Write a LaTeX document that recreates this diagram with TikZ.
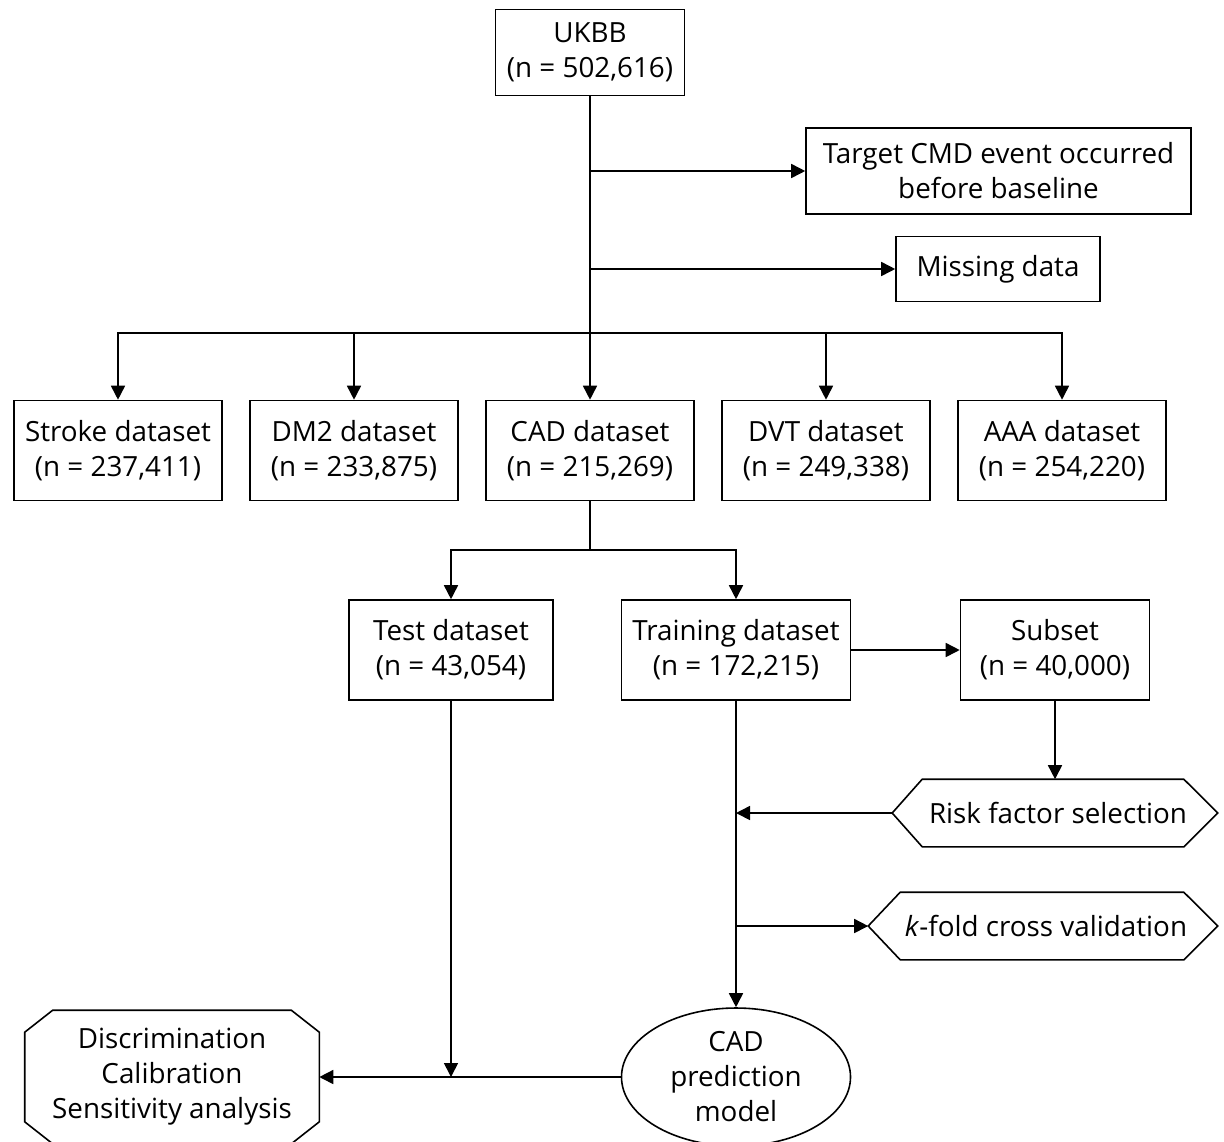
\documentclass[tikz,border=0pt]{standalone}
\usepackage{fontspec}
\setmainfont{Open Sans}
\usetikzlibrary{arrows.meta,shapes.geometric,calc}
\newcommand\diagfont{\fontsize{13.9}{17.5}\selectfont}
\begin{document}
\begin{tikzpicture}[x=0.5pt,y=-0.5pt,
  line width=0.8pt,
  every node/.style={font=\diagfont, align=center, inner sep=0pt},
  box/.style={draw, rectangle},
  arr/.style={-{Triangle[length=7pt,width=7pt]}}]
\useasboundingbox (0,0) rectangle (1224,1141);

% boxes
\node[box, minimum width=94.5pt, minimum height=43pt] (ukbb) at (590,52.5) {UKBB\\(n = 502,616)};
\node[box, minimum width=192.5pt, minimum height=43pt] (target) at (998.5,171) {Target CMD event occurred\\before baseline};
\node[box, minimum width=102pt, minimum height=32.5pt] (missing) at (998,269) {Missing data};

\node[box, minimum width=104pt, minimum height=50pt] (stroke) at (118,450.5) {Stroke dataset\\(n = 237,411)};
\node[box, minimum width=104pt, minimum height=50pt] (dm2) at (354,450.5) {DM2 dataset\\(n = 233,875)};
\node[box, minimum width=104pt, minimum height=50pt] (cad) at (590,450.5) {CAD dataset\\(n = 215,269)};
\node[box, minimum width=104pt, minimum height=50pt] (dvt) at (826,450.5) {DVT dataset\\(n = 249,338)};
\node[box, minimum width=104pt, minimum height=50pt] (aaa) at (1062,450.5) {AAA dataset\\(n = 254,220)};

\node[box, minimum width=102pt, minimum height=50pt] (test) at (451,650) {Test dataset\\(n = 43,054)};
\node[box, minimum width=114.5pt, minimum height=50pt] (train) at (736,650) {Training dataset\\(n = 172,215)};
\node[box, minimum width=94.5pt, minimum height=50pt] (subset) at (1055,650) {Subset\\(n = 40,000)};

% hexagons
\node[minimum width=162pt, minimum height=33pt] (risk) at (1055,813) {\hspace*{3pt}Risk factor selection};
\draw (risk.west) -- ($(risk.north west)+(30,0)$) -- ($(risk.north east)+(-34,0)$) -- (risk.east)
  -- ($(risk.south east)+(-34,0)$) -- ($(risk.south west)+(30,0)$) -- cycle;
\node[minimum width=174pt, minimum height=33pt] (kfold) at (1043,926) {\hspace*{3pt}\textit{k}-fold cross validation};
\draw (kfold.west) -- ($(kfold.north west)+(32,0)$) -- ($(kfold.north east)+(-34,0)$) -- (kfold.east)
  -- ($(kfold.south east)+(-34,0)$) -- ($(kfold.south west)+(32,0)$) -- cycle;

% ellipse
\node[draw, ellipse, minimum width=114.5pt, minimum height=69pt] (model) at (736,1077) {CAD\\prediction\\model};

% octagon
\node[minimum width=146.5pt, minimum height=66pt] (eval) at (172,1077) {Discrimination\\Calibration\\Sensitivity analysis};
\draw ($(eval.north west)+(28,0)$) -- ($(eval.north east)+(-28,0)$) -- ($(eval.north east)+(0,22)$)
  -- ($(eval.south east)+(0,-22)$) -- ($(eval.south east)+(-28,0)$) -- ($(eval.south west)+(28,0)$)
  -- ($(eval.south west)+(0,-22)$) -- ($(eval.north west)+(0,22)$) -- cycle;

% connectors
\coordinate (br) at (590,333);
\coordinate (split) at (590,550);
\draw[arr] (ukbb.south) -- (ukbb.south |- cad.north);
\draw[arr] (ukbb.south |- target.west) -- (target.west);
\draw[arr] (ukbb.south |- missing.west) -- (missing.west);
\draw[arr] (br) -| (stroke.north);
\draw[arr] (br) -| (dm2.north);
\draw[arr] (br) -| (dvt.north);
\draw[arr] (br) -| (aaa.north);
\draw (cad.south) -- (split);
\draw[arr] (split) -| (test.north);
\draw[arr] (split) -| (train.north);
\draw[arr] (train.east) -- (subset.west);
\draw[arr] (subset.south) -- (subset.south |- risk.north);
\draw[arr] (risk.west) -- (train.south |- risk.west);
\draw[arr] (train.south |- kfold.west) -- (kfold.west);
\draw[arr] (train.south) -- (model.north);
\draw[arr] (test.south) -- (test.south |- model.west);
\draw[arr] (model.west) -- (eval.east);
\end{tikzpicture}
\end{document}
